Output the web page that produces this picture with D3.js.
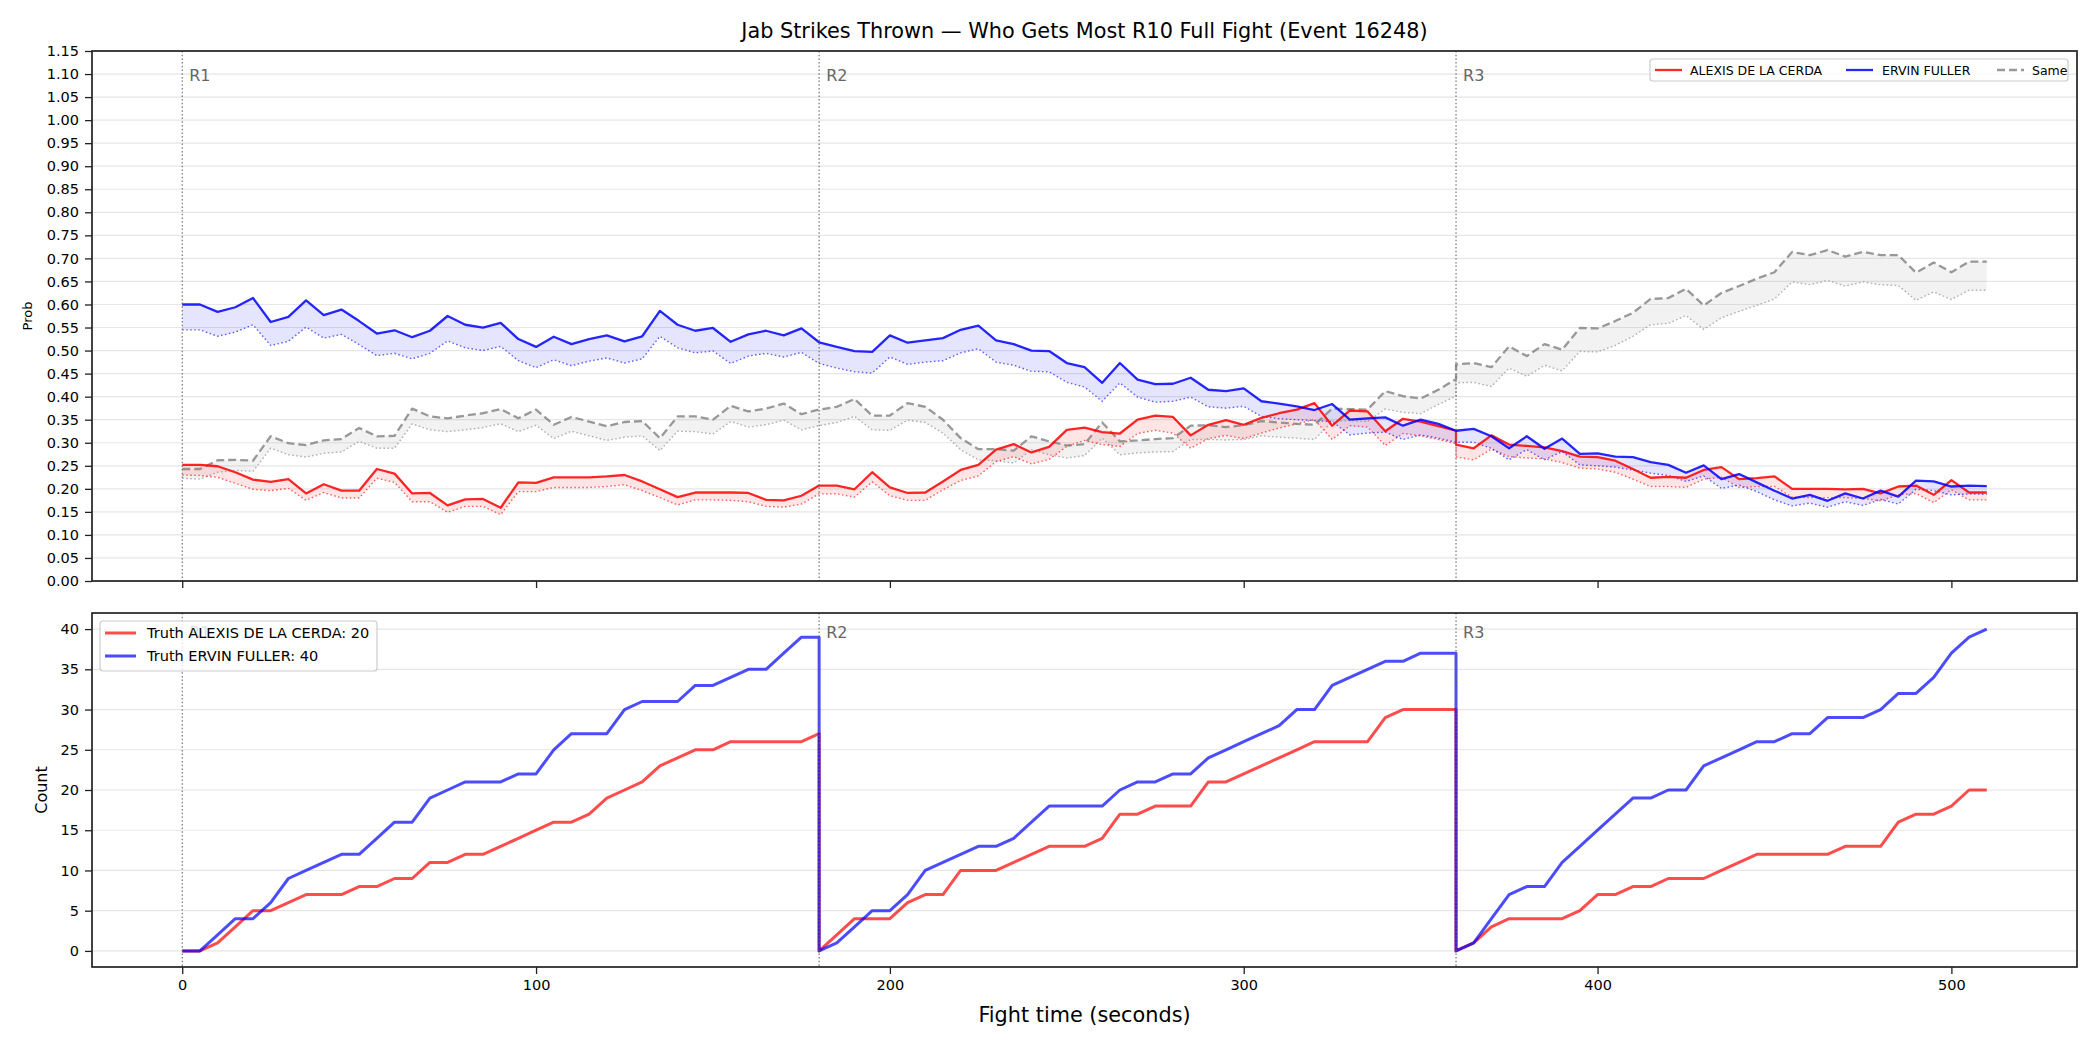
<!DOCTYPE html>
<html>
<head>
<meta charset="utf-8">
<script src="https://cdn.jsdelivr.net/npm/d3@7"></script>
<style>
body { margin: 0; background: #fff; }
svg { display: block; font-family: "DejaVu Sans", sans-serif; }
</style>
</head>
<body>
<script>
// sample times (seconds), each round restarts at its boundary
var timeSec = [0,5,10,15,20,25,30,35,40,45,50,55,60,65,70,75,80,85,90,95,100,105,110,115,120,125,130,135,140,145,150,155,160,165,170,175,180,
	180,185,190,195,200,205,210,215,220,225,230,235,240,245,250,255,260,265,270,275,280,285,290,295,300,305,310,315,320,325,330,335,340,345,350,355,360,
	360,365,370,375,380,385,390,395,400,405,410,415,420,425,430,435,440,445,450,455,460,465,470,475,480,485,490,495,500,505,510];

var roundStarts = [0, 180, 360];
var roundNames = ['R1', 'R2', 'R3'];

var fighterA = 'ALEXIS DE LA CERDA';
var fighterB = 'ERVIN FULLER';

var alexisProb = [.252,.252,.249,.236,.220,.215,.221,.190,.210,.196,.196,.243,.233,.190,.191,.164,.177,.178,.159,.214,.213,.225,.225,.225,.227,.230,.216,.199,.182,.192,.192,.192,.191,.176,.175,.185,.207,
	.207,.207,.199,.236,.203,.191,.192,.216,.241,.252,.285,.297,.279,.291,.328,.333,.323,.320,.350,.359,.356,.316,.339,.349,.339,.354,.364,.372,.386,.337,.370,.368,.325,.352,.346,.336,.326,
	.296,.288,.316,.296,.293,.290,.282,.270,.269,.261,.243,.224,.226,.224,.241,.247,.221,.223,.227,.200,.200,.200,.199,.200,.190,.205,.207,.187,.219,.192,.192];
var alexisLow = [.230,.229,.225,.212,.199,.196,.201,.175,.192,.180,.180,.223,.214,.172,.172,.149,.162,.162,.144,.194,.194,.203,.203,.203,.205,.209,.196,.181,.165,.176,.176,.175,.172,.162,.160,.167,.189,
	.189,.189,.182,.215,.185,.175,.175,.198,.218,.228,.259,.270,.254,.264,.292,.305,.296,.292,.320,.327,.321,.288,.309,.316,.309,.321,.332,.341,.350,.307,.337,.334,.294,.320,.315,.307,.298,
	.269,.263,.286,.270,.267,.265,.257,.245,.243,.236,.221,.205,.205,.203,.221,.225,.203,.205,.205,.182,.181,.181,.181,.179,.174,.187,.190,.170,.198,.176,.176];

var ervinProb = [.600,.600,.584,.594,.614,.562,.573,.609,.577,.589,.564,.537,.544,.529,.543,.575,.556,.550,.560,.525,.508,.530,.514,.525,.533,.520,.531,.586,.556,.543,.549,.519,.535,.543,.533,.548,.518,
	.518,.508,.499,.497,.533,.517,.522,.527,.545,.554,.522,.514,.500,.499,.473,.464,.430,.473,.437,.427,.428,.441,.415,.412,.418,.390,.385,.379,.371,.384,.350,.353,.355,.337,.350,.341,.326,
	.326,.330,.314,.288,.314,.287,.309,.276,.277,.270,.269,.258,.252,.235,.251,.221,.232,.214,.196,.179,.187,.174,.190,.179,.196,.183,.218,.216,.205,.207,.206];
var ervinLow = [.545,.545,.531,.540,.556,.511,.520,.551,.527,.535,.513,.489,.494,.482,.494,.521,.506,.500,.509,.478,.463,.480,.467,.477,.484,.473,.482,.531,.506,.495,.499,.472,.488,.494,.486,.496,.472,
	.472,.462,.454,.451,.486,.470,.475,.478,.495,.504,.475,.468,.455,.454,.431,.421,.390,.430,.399,.388,.390,.399,.378,.375,.379,.357,.352,.350,.348,.346,.317,.321,.323,.307,.317,.310,.301,
	.301,.301,.288,.263,.285,.263,.281,.252,.250,.247,.241,.234,.229,.216,.228,.201,.208,.194,.176,.163,.169,.160,.172,.164,.177,.167,.199,.196,.187,.189,.188];

var sameProb = [.243,.243,.262,.263,.261,.314,.299,.295,.305,.308,.332,.314,.315,.374,.357,.353,.359,.364,.373,.353,.372,.339,.356,.346,.336,.345,.347,.310,.357,.357,.350,.380,.368,.374,.385,.362,.372,
	.372,.378,.395,.359,.359,.386,.378,.350,.310,.286,.286,.283,.314,.303,.294,.297,.344,.303,.305,.308,.310,.337,.338,.334,.338,.347,.344,.341,.339,.374,.373,.372,.412,.401,.396,.415,.438,
	.470,.473,.464,.509,.488,.514,.502,.549,.548,.564,.582,.612,.614,.634,.598,.625,.640,.656,.670,.714,.707,.718,.704,.714,.707,.707,.669,.691,.670,.693,.693];
var sameLow = [.223,.221,.236,.240,.238,.288,.274,.269,.277,.280,.303,.288,.288,.341,.328,.324,.328,.333,.341,.324,.338,.309,.325,.315,.305,.312,.315,.283,.325,.324,.319,.346,.334,.339,.349,.328,.337,
	.337,.344,.357,.328,.327,.349,.344,.321,.285,.263,.261,.256,.285,.274,.267,.272,.310,.274,.278,.280,.281,.307,.307,.306,.307,.315,.312,.310,.307,.346,.348,.346,.373,.366,.363,.383,.401,
	.430,.431,.422,.462,.444,.468,.456,.498,.497,.511,.531,.556,.559,.576,.546,.571,.585,.598,.612,.649,.643,.652,.640,.649,.643,.641,.609,.627,.611,.631,.631];

var alexisCount = [0,0,1,3,5,5,6,7,7,7,8,8,9,9,11,11,12,12,13,14,15,16,16,17,19,20,21,23,24,25,25,26,26,26,26,26,27,
	0,2,4,4,4,6,7,7,10,10,10,11,12,13,13,13,14,17,17,18,18,18,21,21,22,23,24,25,26,26,26,26,29,30,30,30,30,
	0,1,3,4,4,4,4,5,7,7,8,8,9,9,9,10,11,12,12,12,12,12,13,13,13,16,17,17,18,20,20];
var ervinCount = [0,0,2,4,4,6,9,10,11,12,12,14,16,16,19,20,21,21,21,22,22,25,27,27,27,30,31,31,31,33,33,34,35,35,37,39,39,
	0,1,3,5,5,7,10,11,12,13,13,14,16,18,18,18,18,20,21,21,22,22,24,25,26,27,28,30,30,33,34,35,36,36,37,37,37,
	0,1,4,7,8,8,11,13,15,17,19,19,20,20,23,24,25,26,26,27,27,29,29,29,30,32,32,34,37,39,40];

var probTicks = [0,0.05,0.10,0.15,0.20,0.25,0.30,0.35,0.40,0.45,0.50,0.55,0.60,0.65,0.70,0.75,0.80,0.85,0.90,0.95,1.00,1.05,1.10,1.15];
var countTicks = [0,5,10,15,20,25,30,35,40];
var timeTicks = [0,100,200,300,400,500];

// ---------------------------- d3 -----------------------------------

var width = 2100, height = 1050;
var left = 92, right = 2077;
var top1 = 51, bottom1 = 581;
var top2 = 613, bottom2 = 967;
var ink = '#222';

var svg = d3.select('body').append('svg').attr('width', width).attr('height', height);

var x = d3.scaleLinear().domain([-25.5, 535.5]).range([left, right]);
var yProb = d3.scaleLinear().domain([0, 1.15]).range([bottom1, top1]);
var yCount = d3.scaleLinear().domain([-2, 42]).range([bottom2, top2]);

function pairs(values) {
	return timeSec.map(function(t, i) {
		return [t, values[i]];
	});
}

function drawGrid(y, ticks) {
	svg.append('g').selectAll('line').data(ticks).enter().append('line')
		.attr('x1', left).attr('x2', right)
		.attr('y1', function(d) { return y(d); })
		.attr('y2', function(d) { return y(d); })
		.attr('stroke', '#e6e6e6').attr('stroke-width', 1.2);
}

function drawRounds(top, bottom, labelY) {
	var g = svg.append('g');
	g.selectAll('line').data(roundStarts).enter().append('line')
		.attr('x1', function(d) { return x(d); })
		.attr('x2', function(d) { return x(d); })
		.attr('y1', top).attr('y2', bottom)
		.attr('stroke', '#666').attr('stroke-width', 1.1)
		.attr('stroke-dasharray', '1.5,2.2');
	g.selectAll('text').data(roundStarts).enter().append('text')
		.attr('x', function(d) { return x(d) + 7; })
		.attr('y', labelY)
		.attr('font-size', '16px').attr('fill', '#666')
		.text(function(d, i) { return roundNames[i]; });
}

function drawAxes(y, ticks, fmt, top, bottom, showTime) {
	var ay = svg.append('g').attr('transform', 'translate(' + left + ',0)')
		.call(d3.axisLeft(y).tickValues(ticks).tickFormat(fmt).tickSize(7).tickPadding(6));
	var ax = svg.append('g').attr('transform', 'translate(0,' + bottom + ')')
		.call(d3.axisBottom(x).tickValues(timeTicks).tickSize(7).tickPadding(6)
			.tickFormat(showTime ? d3.format('d') : function() { return ''; }));
	[ay, ax].forEach(function(a) {
		a.select('.domain').remove();
		a.selectAll('line').attr('stroke', ink).attr('stroke-width', 1.3);
		a.selectAll('text').attr('font-family', 'DejaVu Sans').attr('font-size', '14.5px').attr('fill', '#000');
	});
	svg.append('rect').attr('x', left).attr('y', top)
		.attr('width', right - left).attr('height', bottom - top)
		.attr('fill', 'none').attr('stroke', ink).attr('stroke-width', 1.7);
}

// ---- top panel: probabilities ----
drawGrid(yProb, probTicks);

var bands = [
	{ hi: sameProb, lo: sameLow, color: 'gray', dash: '8,4', lineOpacity: 0.8 },
	{ hi: alexisProb, lo: alexisLow, color: 'red', dash: null, lineOpacity: 0.85 },
	{ hi: ervinProb, lo: ervinLow, color: 'blue', dash: null, lineOpacity: 0.85 }
];

var area = d3.area()
	.x(function(d) { return x(d[0]); })
	.y0(function(d) { return yProb(d[2]); })
	.y1(function(d) { return yProb(d[1]); });
var probLine = d3.line()
	.x(function(d) { return x(d[0]); })
	.y(function(d) { return yProb(d[1]); });

bands.forEach(function(b) {
	var rows = timeSec.map(function(t, i) { return [t, b.hi[i], b.lo[i]]; });
	svg.append('path').attr('d', area(rows))
		.attr('fill', b.color).attr('fill-opacity', 0.1);
});
bands.forEach(function(b) {
	svg.append('path').attr('d', probLine(pairs(b.lo)))
		.attr('fill', 'none').attr('stroke', b.color).attr('stroke-opacity', 0.6)
		.attr('stroke-width', 1.4).attr('stroke-dasharray', '1.6,2.4');
});
bands.forEach(function(b) {
	svg.append('path').attr('d', probLine(pairs(b.hi)))
		.attr('fill', 'none').attr('stroke', b.color).attr('stroke-opacity', b.lineOpacity)
		.attr('stroke-width', 2.3).attr('stroke-dasharray', b.dash)
		.attr('stroke-linejoin', 'round');
});

drawRounds(top1, bottom1, top1 + 30);
drawAxes(yProb, probTicks, d3.format('.2f'), top1, bottom1, false);

// ---- bottom panel: cumulative counts ----
drawGrid(yCount, countTicks);

var countLine = d3.line()
	.x(function(d) { return x(d[0]); })
	.y(function(d) { return yCount(d[1]); });

[[alexisCount, 'red'], [ervinCount, 'blue']].forEach(function(s) {
	svg.append('path').attr('d', countLine(pairs(s[0])))
		.attr('fill', 'none').attr('stroke', s[1]).attr('stroke-opacity', 0.7)
		.attr('stroke-width', 3).attr('stroke-linejoin', 'round');
});

drawRounds(top2, bottom2, top2 + 25);
drawAxes(yCount, countTicks, d3.format('d'), top2, bottom2, true);

// ---- text ----
svg.append('text').attr('x', (left + right) / 2).attr('y', 38)
	.attr('text-anchor', 'middle').attr('font-size', '20.8px')
	.text('Jab Strikes Thrown \u2014 Who Gets Most R10 Full Fight (Event 16248)');

svg.append('text').attr('transform', 'translate(32,' + (top1 + bottom1) / 2 + ') rotate(-90)')
	.attr('text-anchor', 'middle').attr('font-size', '13px').text('Prob');
svg.append('text').attr('transform', 'translate(47,' + (top2 + bottom2) / 2 + ') rotate(-90)')
	.attr('text-anchor', 'middle').attr('font-size', '16px').text('Count');
svg.append('text').attr('x', (left + right) / 2).attr('y', 1022)
	.attr('text-anchor', 'middle').attr('font-size', '20.8px').text('Fight time (seconds)');

// ---- legends ----
function legendBox(x0, y0, w, h) {
	svg.append('rect').attr('x', x0).attr('y', y0).attr('width', w).attr('height', h)
		.attr('rx', 3).attr('fill', '#fff').attr('fill-opacity', 0.8)
		.attr('stroke', '#ccc').attr('stroke-width', 1.2);
}

legendBox(1650, 59, 418, 22);
var topItems = [
	{ label: fighterA, color: 'red', dash: null, op: 0.85, x: 1655, tx: 1690 },
	{ label: fighterB, color: 'blue', dash: null, op: 0.85, x: 1846, tx: 1882 },
	{ label: 'Same', color: 'gray', dash: '8,4', op: 0.8, x: 1997, tx: 2032 }
];
topItems.forEach(function(it) {
	svg.append('line').attr('x1', it.x).attr('x2', it.x + 27).attr('y1', 70).attr('y2', 70)
		.attr('stroke', it.color).attr('stroke-opacity', it.op).attr('stroke-width', 2.3)
		.attr('stroke-dasharray', it.dash);
	svg.append('text').attr('x', it.tx).attr('y', 74.5).attr('font-size', '12.5px').text(it.label);
});

legendBox(100, 621, 277, 50);
var bottomItems = [
	{ label: 'Truth ' + fighterA + ': ' + alexisCount[alexisCount.length - 1], color: 'red', y: 633 },
	{ label: 'Truth ' + fighterB + ': ' + ervinCount[ervinCount.length - 1], color: 'blue', y: 656 }
];
bottomItems.forEach(function(it) {
	svg.append('line').attr('x1', 105).attr('x2', 136).attr('y1', it.y).attr('y2', it.y)
		.attr('stroke', it.color).attr('stroke-opacity', 0.7).attr('stroke-width', 3);
	svg.append('text').attr('x', 147).attr('y', it.y + 5).attr('font-size', '14.5px').text(it.label);
});
</script>
</body>
</html>
